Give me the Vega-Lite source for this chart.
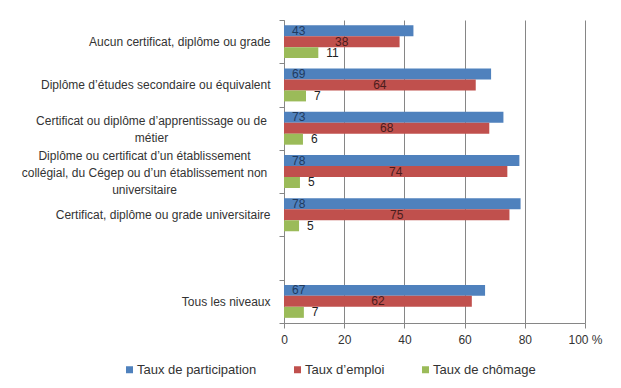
{
  "$schema": "https://vega.github.io/schema/vega-lite/v6.json",
  "autosize": {"type": "none"},
  "width": 301,
  "height": 303,
  "padding": {"left": 284, "top": 20, "right": 36, "bottom": 65},
  "background": "white",
  "config": {
    "view": {"stroke": null},
    "font": "Liberation Sans",
    "axis": {"labelFont": "Liberation Sans", "labelFontSize": 12, "labelColor": "#333333", "domainColor": "#868686", "tickColor": "#868686", "gridColor": "#868686"}
  },
  "data": {
    "values": [
      {"cat": "Aucun certificat, diplôme ou grade", "serie": "Taux de participation", "value": 43.0, "label": 43},
      {"cat": "Aucun certificat, diplôme ou grade", "serie": "Taux d’emploi", "value": 38.4, "label": 38},
      {"cat": "Aucun certificat, diplôme ou grade", "serie": "Taux de chômage", "value": 11.4, "label": 11},
      {"cat": "Diplôme d’études secondaire ou équivalent", "serie": "Taux de participation", "value": 68.8, "label": 69},
      {"cat": "Diplôme d’études secondaire ou équivalent", "serie": "Taux d’emploi", "value": 63.7, "label": 64},
      {"cat": "Diplôme d’études secondaire ou équivalent", "serie": "Taux de chômage", "value": 7.3, "label": 7},
      {"cat": "Certificat ou diplôme d’apprentissage ou de|métier", "serie": "Taux de participation", "value": 72.9, "label": 73},
      {"cat": "Certificat ou diplôme d’apprentissage ou de|métier", "serie": "Taux d’emploi", "value": 68.2, "label": 68},
      {"cat": "Certificat ou diplôme d’apprentissage ou de|métier", "serie": "Taux de chômage", "value": 6.3, "label": 6},
      {"cat": "Diplôme ou certificat d’un établissement|collégial, du Cégep ou d’un établissement non|universitaire", "serie": "Taux de participation", "value": 78.2, "label": 78},
      {"cat": "Diplôme ou certificat d’un établissement|collégial, du Cégep ou d’un établissement non|universitaire", "serie": "Taux d’emploi", "value": 74.2, "label": 74},
      {"cat": "Diplôme ou certificat d’un établissement|collégial, du Cégep ou d’un établissement non|universitaire", "serie": "Taux de chômage", "value": 5.3, "label": 5},
      {"cat": "Certificat, diplôme ou grade universitaire", "serie": "Taux de participation", "value": 78.6, "label": 78},
      {"cat": "Certificat, diplôme ou grade universitaire", "serie": "Taux d’emploi", "value": 74.9, "label": 75},
      {"cat": "Certificat, diplôme ou grade universitaire", "serie": "Taux de chômage", "value": 5.0, "label": 5},
      {"cat": "Tous les niveaux", "serie": "Taux de participation", "value": 66.8, "label": 67},
      {"cat": "Tous les niveaux", "serie": "Taux d’emploi", "value": 62.4, "label": 62},
      {"cat": "Tous les niveaux", "serie": "Taux de chômage", "value": 6.6, "label": 7}
    ]
  },
  "encoding": {
    "y": {
      "field": "cat", "type": "nominal", "title": null,
      "scale": {"domain": ["Aucun certificat, diplôme ou grade", "Diplôme d’études secondaire ou équivalent", "Certificat ou diplôme d’apprentissage ou de|métier", "Diplôme ou certificat d’un établissement|collégial, du Cégep ou d’un établissement non|universitaire", "Certificat, diplôme ou grade universitaire", "(vide)", "Tous les niveaux"], "paddingInner": 0, "paddingOuter": 0},
      "axis": {
        "tickBand": "extent", "tickSize": 5, "labelLineHeight": 17, "labelBaseline": "middle", "labelLimit": 400,
        "labelExpr": "datum.label == '(vide)' ? '' : split(datum.label, '|')",
        "labelAlign": {"condition": {"test": "indexof(datum.label, '|') >= 0", "value": "center"}, "value": "right"},
        "labelOffset": {"condition": [
          {"test": "indexof(datum.label, 'apprentissage') >= 0", "value": -8},
          {"test": "indexof(datum.label, 'collégial') >= 0", "value": -16}
        ], "value": 0},
        "labelPadding": {"condition": [
          {"test": "indexof(datum.label, 'apprentissage') >= 0", "value": 128},
          {"test": "indexof(datum.label, 'collégial') >= 0", "value": 135}
        ], "value": 9}
      }
    },
    "yOffset": {"field": "serie", "type": "nominal", "scale": {"domain": ["Taux de participation", "Taux d’emploi", "Taux de chômage"], "paddingInner": 0, "paddingOuter": 0.47}}
  },
  "layer": [
    {
      "mark": {"type": "bar"},
      "encoding": {
        "x": {"field": "value", "type": "quantitative", "title": null,
          "scale": {"domain": [0, 100]},
          "axis": {"values": [0, 20, 40, 60, 80, 100], "grid": true, "tickSize": 5, "labelPadding": 6, "labelFlush": false,
            "labelExpr": "datum.value == 100 ? '\u00a0\u00a0\u00a0\u00a0100 %' : datum.label"}},
        "color": {"field": "serie", "type": "nominal", "title": null,
          "scale": {"domain": ["Taux de participation", "Taux d’emploi", "Taux de chômage"], "range": ["#4F81BD", "#C0504D", "#9BBB59"]},
          "legend": {"orient": "none", "legendX": -161, "legendY": 343, "direction": "horizontal", "symbolType": "square", "symbolSize": 49, "symbolStrokeWidth": 0, "labelFontSize": 13, "labelFont": "Liberation Sans", "labelColor": "#333333", "labelOffset": 1, "columnPadding": 34}}
      }
    },
    {
      "transform": [{"filter": "datum.serie == 'Taux de participation'"}],
      "mark": {"type": "text", "align": "left", "baseline": "middle", "dx": 8, "fontSize": 12, "font": "Liberation Sans", "color": "#1F3A5F"},
      "encoding": {"x": {"datum": 0, "type": "quantitative"}, "text": {"field": "label"}}
    },
    {
      "transform": [{"filter": "datum.serie == 'Taux d’emploi'"}, {"calculate": "datum.value / 2", "as": "mid"}],
      "mark": {"type": "text", "align": "center", "baseline": "middle", "fontSize": 12, "font": "Liberation Sans", "color": "#4A1C1C"},
      "encoding": {"x": {"field": "mid", "type": "quantitative"}, "text": {"field": "label"}}
    },
    {
      "transform": [{"filter": "datum.serie == 'Taux de chômage'"}],
      "mark": {"type": "text", "align": "left", "baseline": "middle", "dx": 8, "fontSize": 12, "font": "Liberation Sans", "color": "#222222"},
      "encoding": {"x": {"field": "value", "type": "quantitative"}, "text": {"field": "label"}}
    }
  ]
}
